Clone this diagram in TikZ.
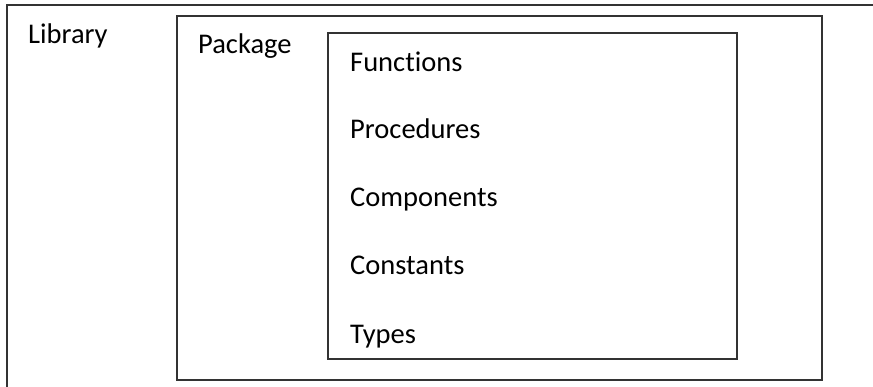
\documentclass[tikz,border=0pt]{standalone}
\usepackage{fontspec}
\setmainfont[Ligatures=NoCommon]{Carlito}
\begin{document}
\begin{tikzpicture}[x=1pt,y=-1pt,
  boxline/.style={draw=black!80,line width=1.4pt},
  lbl/.style={anchor=base west,inner sep=0pt,font=\fontsize{28.5}{32}\selectfont,text=black}]
\useasboundingbox (0,0) rectangle (873,387);
\clip (0,0) rectangle (873,387);
\fill[white] (0,0) rectangle (873,387);
\draw[boxline] (7,5) rectangle (890,400);
\draw[boxline] (177,16) rectangle (822,380);
\draw[boxline] (328,33) rectangle (737,359);
\node[lbl] (lib) at (28,44) {Library};
\node[lbl] (pkg) at (198,54) {Package};
\node[lbl] (fun) at (350,71.5) {Functions};
\node[lbl] (pro) at (350,138.5) {Procedures};
\node[lbl] (com) at (350,206.7) {Components};
\node[lbl] (con) at (350,275) {Constants};
\node[lbl] (typ) at (350,343.3) {Types};
\end{tikzpicture}
\end{document}
